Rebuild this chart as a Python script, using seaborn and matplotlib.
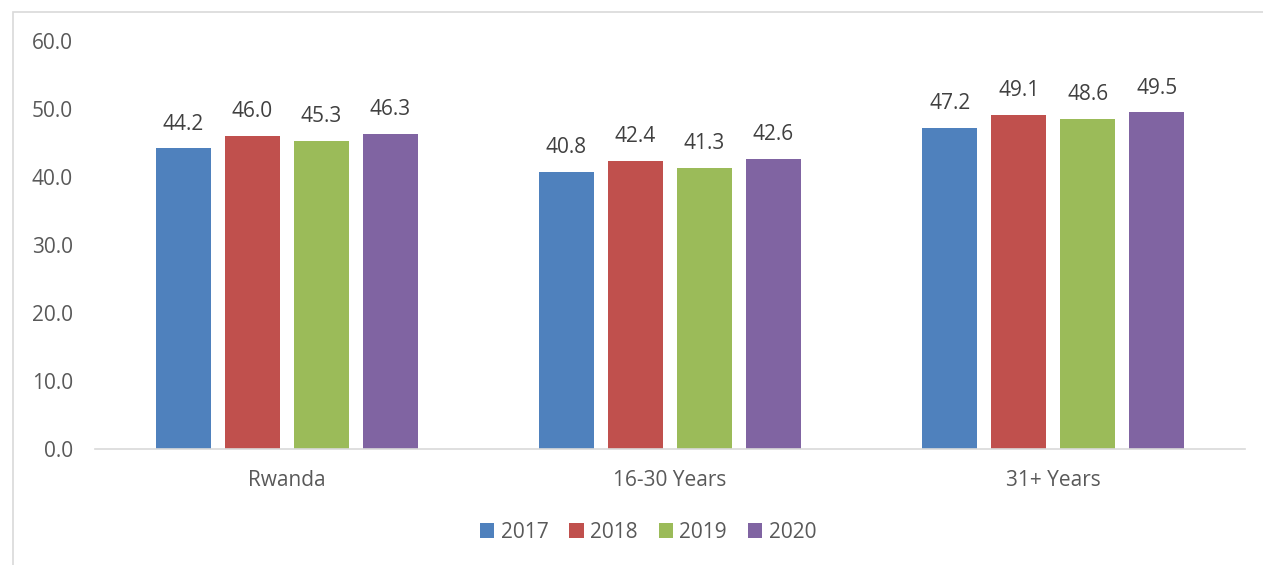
import matplotlib
matplotlib.use("Agg")
import matplotlib.pyplot as plt
from matplotlib.patches import Rectangle
import seaborn as sns
import pandas as pd

categories = ["Rwanda", "16-30 Years", "31+ Years"]
years = ["2017", "2018", "2019", "2020"]
values_2017 = [44.2, 40.8, 47.2]
values_2018 = [46.0, 42.4, 49.1]
values_2019 = [45.3, 41.3, 48.6]
values_2020 = [46.3, 42.6, 49.5]
colors = ["#4F81BD", "#C0504D", "#9BBB59", "#8064A2"]

series = [values_2017, values_2018, values_2019, values_2020]
df = pd.DataFrame(
    [(c, y, v) for y, vals in zip(years, series) for c, v in zip(categories, vals)],
    columns=["group", "year", "value"],
)

sns.set_theme(style="white")
plt.rcParams["font.family"] = ["Open Sans", "DejaVu Sans"]

fig = plt.figure(figsize=(12.63, 5.65), dpi=100)
ax = fig.add_axes([95 / 1263, 1 - 449 / 565, 1150 / 1263, 408 / 565])

sns.barplot(
    data=df, x="group", y="value", hue="year", order=categories, hue_order=years,
    palette=colors, width=0.72, gap=0.2, saturation=1, ax=ax, legend=True,
    edgecolor="none", linewidth=0,
)

for container in ax.containers:
    ax.bar_label(container, fmt="%.1f", padding=10, fontsize=15, color="#404040")

ax.set_ylim(0, 60)
ax.set_xlim(-0.5, 2.5)
ax.set_yticks(range(0, 61, 10))
ax.set_yticklabels([f"{v:.1f}" for v in range(0, 61, 10)])
ax.set_xlabel("")
ax.set_ylabel("")
ax.tick_params(axis="both", length=0, labelsize=15, labelcolor="#595959")
ax.tick_params(axis="y", pad=16)
ax.tick_params(axis="x", pad=15)
for side in ["left", "right", "top"]:
    ax.spines[side].set_visible(False)
ax.spines["bottom"].set_color("#D9D9D9")
ax.spines["bottom"].set_linewidth(1.2)
ax.grid(False)

handles, labels = ax.get_legend_handles_labels()
ax.legend(
    handles, labels, loc="center", bbox_to_anchor=(648 / 1263, 1 - 532 / 565),
    bbox_transform=fig.transFigure, ncol=4, frameon=False, fontsize=15,
    labelcolor="#595959", handlelength=0.7, handleheight=0.7, handletextpad=0.3,
    columnspacing=1.0,
)

fig.patches.append(
    Rectangle((13 / 1263, -0.1), 1.2, (1 - 12 / 565) + 0.1, transform=fig.transFigure,
              fill=False, edgecolor="#D9D9D9", linewidth=1.2)
)

fig.savefig("out.png", dpi=100, facecolor="white")
